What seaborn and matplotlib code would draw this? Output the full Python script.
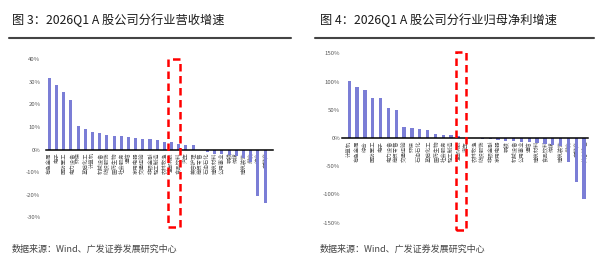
import matplotlib
matplotlib.use("Agg")
import matplotlib.pyplot as plt
from matplotlib.patches import Rectangle
from matplotlib.lines import Line2D
import seaborn as sns
import pandas as pd

sns.set_theme(style="white")
plt.rcParams["font.family"] = ["Noto Sans CJK SC", "DejaVu Sans"]
plt.rcParams["axes.unicode_minus"] = False

# ── DATA
rev_labels = ["有色金属", "电子", "国防军工", "电力设备", "环保", "基础化工", "计算机", "机械设备",
              "纺织服饰", "医药生物", "社会服务", "通信", "家用电器", "交通运输", "非银金融", "轻工制造",
              "农林牧渔", "全部A股", "食品饮料", "汽车", "美容护理", "商贸零售", "石油石化", "建筑材料",
              "公用事业", "钢铁", "传媒", "建筑装饰", "煤炭", "综合", "房地产"]
rev_growth = [31.7, 28.6, 25.3, 21.9, 10.3, 9.2, 7.6, 7.4, 6.4, 6.1, 5.9, 5.6, 5.2, 4.9, 4.5, 4.4,
              3.4, 3.3, 2.5, 1.9, 1.9, -0.3, -1.0, -2.1, -2.1, -2.5, -3.0, -3.6, -5.5, -20.4, -23.7]

np_labels = ["计算机", "有色金属", "综合", "国防军工", "电子", "电力设备", "商贸零售", "交通运输",
             "环保", "石油石化", "基础化工", "医药生物", "社会服务", "轻工制造", "全部A股", "汽车",
             "农林牧渔", "纺织服饰", "非银金融", "家用电器", "钢铁", "机械设备", "公用事业", "通信",
             "建筑材料", "食品饮料", "传媒", "建筑装饰", "煤炭", "房地产", "美容护理"]
np_growth = [100.5, 90.6, 85.3, 71.2, 71.0, 53.6, 49.4, 19.4, 18.3, 15.3, 14.1, 7.8, 6.0, 4.7,
             2.9, 0.5, -0.5, -1.0, -1.5, -3.0, -4.7, -5.9, -7.0, -7.6, -9.4, -10.6, -12.4, -13.5,
             -42.0, -77.6, -108.0]

rev_ticks = [-30, -20, -10, 0, 10, 20, 30, 40]
np_ticks = [-150, -100, -50, 0, 50, 100, 150]

BAR = "#7B7ED6"
TXT = "#595959"
HL = "全部A股"

fig = plt.figure(figsize=(6, 2.7), dpi=100)


def panel(rect, labels, vals, ticks, xlim, box_y, box_dx, tx):
    ax = fig.add_axes(rect)
    df = pd.DataFrame({"cat": labels, "val": vals})
    sns.barplot(data=df, x="cat", y="val", color=BAR, width=0.42, saturation=1,
                linewidth=0, ax=ax)
    ax.set_xlim(*xlim)
    ax.set_ylim(ticks[0], ticks[-1])
    ax.set_yticks(ticks)
    ax.set_yticklabels([f"{t}%" for t in ticks], fontsize=4.3, color=TXT)
    for s in ["top", "right", "left"]:
        ax.spines[s].set_visible(False)
    ax.spines["bottom"].set_position(("data", 0))
    ax.spines["bottom"].set_color("black")
    ax.spines["bottom"].set_linewidth(1.1)
    ax.set_xticks(range(len(labels)))
    ax.set_xticklabels(labels, rotation=90, fontsize=3.9, color=TXT)
    ax.tick_params(axis="x", length=0, pad=2)
    ax.tick_params(axis="y", length=0, pad=tx)
    ax.set_xlabel(""); ax.set_ylabel("")
    ax.grid(False)
    # red dashed highlight box around the whole-market bar
    i = labels.index(HL)
    ax.add_patch(Rectangle((i + box_dx[0], box_y[0]), box_dx[1] - box_dx[0], box_y[1] - box_y[0],
                           fill=False, edgecolor="#FF0000", lw=1.8, ls=(0, (3, 1.8)),
                           clip_on=False, zorder=5))
    return ax


panel([46 / 600, 1 - 217.3 / 270, 227 / 600, 158 / 270], rev_labels, rev_growth, rev_ticks,
      (-0.46, 31.1), (-34.5, 40), (-0.46, 1.17), 4)
panel([342 / 600, 1 - 222.7 / 270, 246 / 600, 169.4 / 270], np_labels, np_growth, np_ticks,
      (-0.93, 30.5), (-163, 153), (-0.42, 0.86), 1.2)

# titles, rules and source notes
fig.text(12 / 600, 1 - 20 / 270, "图 3：2026Q1 A 股公司分行业营收增速", fontsize=8.8, color="#1a1a1a",
         va="center", ha="left", weight="medium")
fig.text(320 / 600, 1 - 20 / 270, "图 4：2026Q1 A 股公司分行业归母净利增速", fontsize=8.8, color="#1a1a1a",
         va="center", ha="left", weight="medium")
fig.add_artist(Line2D([9 / 600, 291 / 600], [1 - 37.5 / 270] * 2, color="#444444", lw=1.5))
fig.add_artist(Line2D([315 / 600, 594 / 600], [1 - 37.5 / 270] * 2, color="#444444", lw=1.5))
fig.text(12 / 600, 1 - 249 / 270, "数据来源：Wind、广发证券发展研究中心", fontsize=6.5, color="#444444",
         va="center", ha="left")
fig.text(320 / 600, 1 - 249 / 270, "数据来源：Wind、广发证券发展研究中心", fontsize=6.5, color="#444444",
         va="center", ha="left")

fig.savefig("out.png", dpi=100)
